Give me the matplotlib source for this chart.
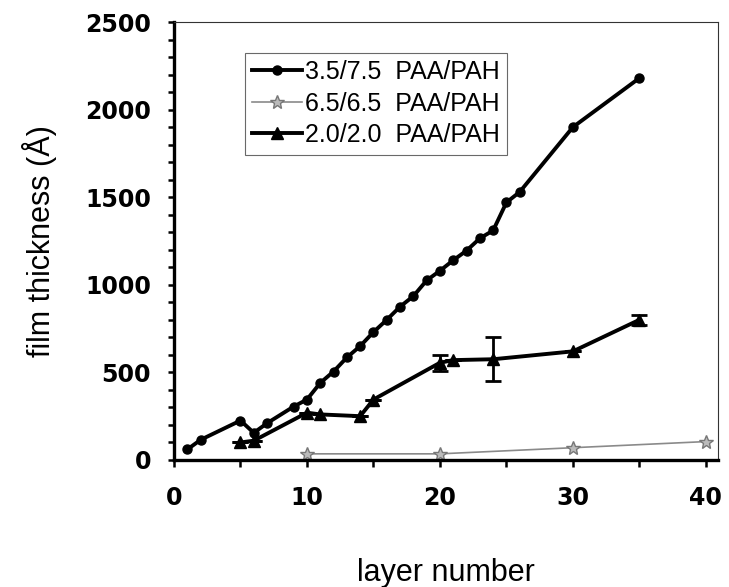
import matplotlib
matplotlib.use('Agg')
import matplotlib.pyplot as plt
from matplotlib.ticker import MultipleLocator

# 3.5/7.5 PAA/PAH
layers_a = [1, 2, 5, 6, 7, 9, 10, 11, 12, 13, 14, 15, 16, 17, 18, 19, 20, 21, 22, 23, 24, 25, 26, 30, 35]
thick_a = [60, 115, 225, 155, 210, 305, 345, 440, 505, 585, 650, 730, 800, 875, 935,
           1025, 1080, 1140, 1195, 1265, 1310, 1470, 1530, 1900, 2180]

# 6.5/6.5 PAA/PAH
layers_b = [10, 20, 30, 40]
thick_b = [35, 35, 70, 105]

# 2.0/2.0 PAA/PAH
layers_c = [5, 6, 10, 11, 14, 15, 20, 21, 24, 30, 35]
thick_c = [100, 110, 270, 260, 250, 345, 555, 570, 575, 620, 800]
err_c = [0, 0, 0, 0, 0, 0, 45, 0, 125, 0, 30]

labels = ['3.5/7.5  PAA/PAH', '6.5/6.5  PAA/PAH', '2.0/2.0  PAA/PAH']
xticks = [0, 10, 20, 30, 40]
yticks = [0, 500, 1000, 1500, 2000, 2500]


def plot_graph():
    plt.rcParams['font.family'] = ['Liberation Sans', 'DejaVu Sans']
    fig = plt.figure(figsize=(7.29, 5.87), dpi=100)
    ax = fig.add_axes([0.2387, 0.2164, 0.746, 0.7461])

    ax.plot(layers_a, thick_a, color='black', lw=2.8, marker='o', ms=6.5,
            label=labels[0], zorder=3)
    ax.plot(layers_b, thick_b, color='#8a8a8a', lw=1.2, marker='*', ms=10,
            mec='#777777', mfc='#bbbbbb', label=labels[1], zorder=2)
    ax.plot(layers_c, thick_c, color='black', lw=2.8, marker='^', ms=8.5,
            label=labels[2], zorder=3)
    # error bars only where the reference shows them
    ax.errorbar(layers_c, thick_c, yerr=err_c, fmt='none', ecolor='black',
                elinewidth=2, capsize=6, capthick=2, zorder=3)

    ax.set_xlim(0, 40.9)
    ax.set_ylim(0, 2500)
    ax.set_xticks(xticks)
    ax.set_yticks(yticks)
    ax.xaxis.set_minor_locator(MultipleLocator(5))
    ax.yaxis.set_minor_locator(MultipleLocator(100))
    ax.tick_params(which='both', direction='out', width=1.8, color='black')
    ax.tick_params(axis='x', which='both', length=5, pad=14)
    ax.tick_params(axis='y', which='both', length=4.5, pad=12)
    for lab in ax.get_xticklabels() + ax.get_yticklabels():
        lab.set_fontfamily('DejaVu Sans')
        lab.set_fontweight('heavy')
        lab.set_fontsize(17)

    for side in ['left', 'bottom']:
        ax.spines[side].set_linewidth(2.4)
    for side in ['top', 'right']:
        ax.spines[side].set_linewidth(0.8)
        ax.spines[side].set_color('#333333')

    ax.set_xlabel('layer number', fontsize=22, labelpad=34)
    ax.set_ylabel('film thickness (Å)', fontsize=22, labelpad=20)

    leg = ax.legend(loc='upper left', bbox_to_anchor=(0.13, 0.93), borderaxespad=0,
                    fontsize=18, frameon=True, fancybox=False, handlelength=2.0,
                    handletextpad=0.1, labelspacing=0.3, borderpad=0.3)
    leg.get_frame().set_edgecolor('#444444')
    leg.get_frame().set_linewidth(0.8)

    plt.savefig('out.png', dpi=100)


if __name__ == '__main__':
    plot_graph()
